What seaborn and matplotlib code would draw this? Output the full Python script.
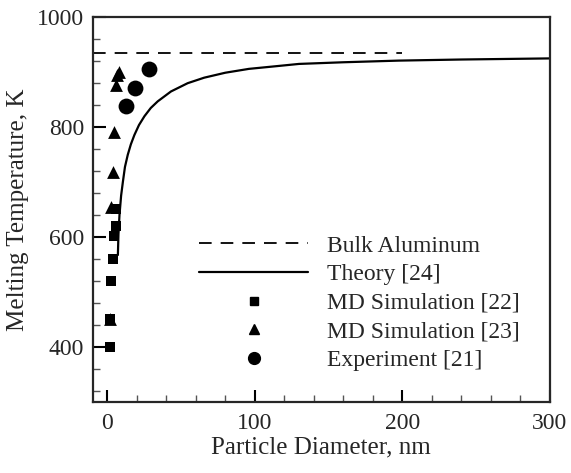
import matplotlib
matplotlib.use("Agg")
import matplotlib.pyplot as plt
from matplotlib.lines import Line2D
from matplotlib.ticker import MultipleLocator
import pandas as pd
import seaborn as sns

# Bulk aluminum melting point
bulk_x = [-10, 200]
bulk_t = [933, 933]

# Theory [24] curve
theory_d = [7.2, 7.6, 8.3, 9.4, 10.6, 12.0, 13.9, 16.0, 18.4, 21.5, 25.2, 29.5, 34.2,
            43.2, 54.5, 65.7, 80, 96, 115, 130, 160, 197.5, 240, 300]
theory_t = [567, 605, 640, 675, 700, 727, 749, 768, 785, 803, 819, 834, 846,
            864, 879, 889, 898, 905, 910, 914, 917, 920, 922, 924]

# MD Simulation [22] (squares)
md22_d = [1.6, 1.6, 2.7, 3.8, 4.9, 5.6, 6.1]
md22_t = [400, 450, 520, 560, 601, 620, 650]

# MD Simulation [23] (triangles)
md23_d = [1.6, 2.7, 3.8, 4.5, 5.6, 6.6, 7.9]
md23_t = [451, 655, 718, 790, 875, 893, 900]

# Experiment [21] (circles)
exp_d = [12.8, 18.9, 28.1]
exp_t = [838, 870, 905]

sns.set_style("ticks")
plt.rcParams['font.family'] = ['Liberation Serif', 'DejaVu Serif']

fig = plt.figure(figsize=(5.71, 4.73), dpi=100)
ax = fig.add_axes([0.162, 0.150, 0.801, 0.815])

sns.lineplot(x=bulk_x, y=bulk_t, ax=ax, color='black', lw=1.3,
             dashes=False, linestyle=(0, (7, 5)))
theory = pd.DataFrame({'d': theory_d, 't': theory_t})
sns.lineplot(data=theory, x='d', y='t', ax=ax, color='black', lw=1.6, sort=False)
sns.scatterplot(x=md22_d, y=md22_t, ax=ax, marker='s', s=55, color='black',
                edgecolor='black', linewidth=0)
sns.scatterplot(x=md23_d, y=md23_t, ax=ax, marker='^', s=85, color='black',
                edgecolor='black', linewidth=0)
sns.scatterplot(x=exp_d, y=exp_t, ax=ax, marker='o', s=130, color='black',
                edgecolor='black', linewidth=0)

ax.set_xlim(-10, 300)
ax.set_ylim(300, 1000)
ax.xaxis.set_major_locator(MultipleLocator(100))
ax.xaxis.set_minor_locator(MultipleLocator(20))
ax.yaxis.set_major_locator(MultipleLocator(200))
ax.yaxis.set_minor_locator(MultipleLocator(40))
ax.tick_params(which='major', direction='in', length=9, width=1.5, labelsize=17,
               color='black')
ax.tick_params(which='minor', direction='in', length=5, width=1.0, color='#555555')
ax.tick_params(axis='y', which='major', pad=6)
ax.tick_params(axis='x', which='major', pad=8)
for sp in ax.spines.values():
    sp.set_linewidth(1.6)
    sp.set_visible(True)

ax.set_xlabel("Particle Diameter, nm", fontsize=18, labelpad=2)
ax.set_ylabel("Melting Temperature, K", fontsize=18, labelpad=6)

handles = [
    Line2D([], [], color='black', lw=1.3, linestyle=(0, (7, 5))),
    Line2D([], [], color='black', lw=1.6),
    Line2D([], [], color='black', lw=0, marker='s', markersize=5.5),
    Line2D([], [], color='black', lw=0, marker='^', markersize=6.5),
    Line2D([], [], color='black', lw=0, marker='o', markersize=8.5),
]
labels = ["Bulk Aluminum", "Theory [24]", "MD Simulation [22]",
          "MD Simulation [23]", "Experiment [21]"]
ax.legend(handles, labels, loc='lower right', bbox_to_anchor=(0.98, 0.025),
          frameon=False, fontsize=17, handlelength=4.6, handletextpad=0.8,
          labelspacing=0.3)

fig.savefig("out.png", dpi=100)
